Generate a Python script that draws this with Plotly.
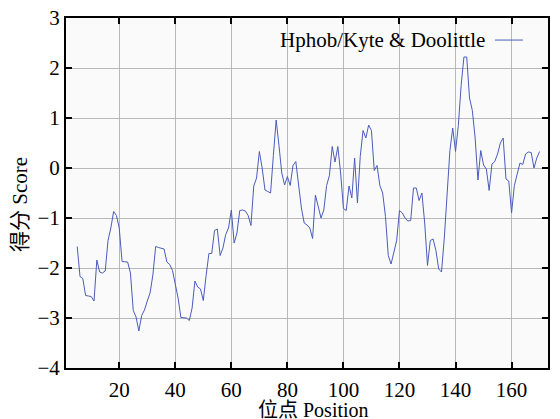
import plotly.graph_objects as go

positions = list(range(5, 171))
scores = [
    -1.57, -2.17, -2.21, -2.55, -2.56, -2.57, -2.66, -1.84, -2.08, -2.10,  # 5-14
    -2.06, -1.45, -1.20, -0.87, -0.95, -1.20, -1.87, -1.87, -1.88, -2.10,  # 15-24
    -2.85, -2.98, -3.26, -2.95, -2.84, -2.66, -2.50, -2.14, -1.57, -1.59,  # 25-34
    -1.60, -1.62, -1.88, -1.93, -2.05, -2.30, -2.60, -2.99, -2.99, -3.00,  # 35-44
    -3.05, -2.80, -2.26, -2.38, -2.42, -2.65, -2.15, -1.71, -1.71, -1.25,  # 45-54
    -1.22, -1.75, -1.60, -1.33, -1.20, -0.84, -1.50, -1.30, -0.85, -0.84,  # 55-64
    -0.86, -0.95, -1.15, -0.36, -0.20, 0.33, 0.00, -0.44, -0.47, -0.50,    # 65-74
    0.25, 0.96, 0.45, -0.10, -0.34, -0.17, -0.35, 0.05, 0.13, -0.30,       # 75-84
    -0.80, -1.10, -1.14, -1.20, -1.41, -0.54, -0.75, -1.00, -0.84, -0.35,  # 85-94
    -0.15, 0.43, 0.12, 0.43, -0.10, -0.81, -0.85, -0.36, -0.60, 0.20,      # 95-104
    -0.70, 0.23, 0.75, 0.60, 0.86, 0.75, -0.05, 0.05, -0.35, -0.50,        # 105-114
    -0.97, -1.75, -1.92, -1.70, -1.45, -0.85, -0.90, -1.00, -1.06, -1.05,  # 115-124
    -0.40, -0.40, -0.65, -0.50, -1.10, -1.95, -1.45, -1.42, -1.65, -2.02,  # 125-134
    -2.08, -1.40, -0.57, 0.35, 0.80, 0.33, 0.85, 1.65, 2.22, 2.22,         # 135-144
    1.40, 1.15, 0.60, -0.24, 0.35, 0.06, -0.02, -0.45, 0.08, 0.13,         # 145-154
    0.28, 0.50, 0.60, -0.22, -0.26, -0.90, -0.35, -0.10, 0.10, 0.07,       # 155-164
    0.28, 0.32, 0.31, 0.00, 0.20, 0.33,                                    # 165-170
]

x_ticks = [20, 40, 60, 80, 100, 120, 140, 160]
y_ticks = [-4, -3, -2, -1, 0, 1, 2, 3]
series_name = "Hphob/Kyte & Doolittle"
x_title = "位点 Position"
y_title = "得分 Score"

line_color = "#4a5cbc"
font_family = "Liberation Serif, Noto Sans CJK SC, serif"

fig = go.Figure()
fig.add_trace(go.Scatter(
    x=positions, y=scores, mode="lines", name=series_name,
    line=dict(color=line_color, width=1), showlegend=False,
))

axis_common = dict(
    showgrid=True, gridcolor="#b8b8b8", gridwidth=1,
    showline=True, linecolor="black", linewidth=2, mirror="ticks",
    ticks="inside", ticklen=6, tickwidth=2, tickcolor="black",
    zeroline=False, automargin=False, ticklabeloverflow="allow",
    tickfont=dict(family=font_family, size=21, color="black"),
)

fig.update_layout(
    width=560, height=419,
    margin=dict(l=66, r=12, t=18, b=51),
    paper_bgcolor="white", plot_bgcolor="#fafafa",
    font=dict(family=font_family, color="black"),
    xaxis=dict(range=[1, 173], tickvals=x_ticks, ticklabelstandoff=2, **axis_common),
    yaxis=dict(range=[-4, 3], tickvals=y_ticks, **axis_common),
)

fig.add_annotation(
    xref="paper", yref="paper", x=0.5145, y=0, xanchor="center", yanchor="top",
    yshift=-29, text=x_title, showarrow=False,
    font=dict(family=font_family, size=20, color="black"),
)
fig.add_annotation(
    xref="paper", yref="paper", x=0, y=0.466, xanchor="center", yanchor="middle",
    xshift=-46, textangle=-90, text=y_title, showarrow=False,
    font=dict(family=font_family, size=21, color="black"),
)
fig.add_annotation(
    xref="paper", yref="paper", x=0.8734, y=0.937, xanchor="right", yanchor="middle",
    text=series_name, showarrow=False,
    font=dict(family=font_family, size=21, color="black"),
)
fig.add_shape(
    type="line", xref="paper", yref="paper", x0=0.89, x1=0.948, y0=0.937, y1=0.937,
    line=dict(color=line_color, width=1),
)

fig.write_html(
    "out.html",
    config={"displayModeBar": False},
    post_script="document.body.style.margin='0';document.body.style.overflow='hidden';",
)
